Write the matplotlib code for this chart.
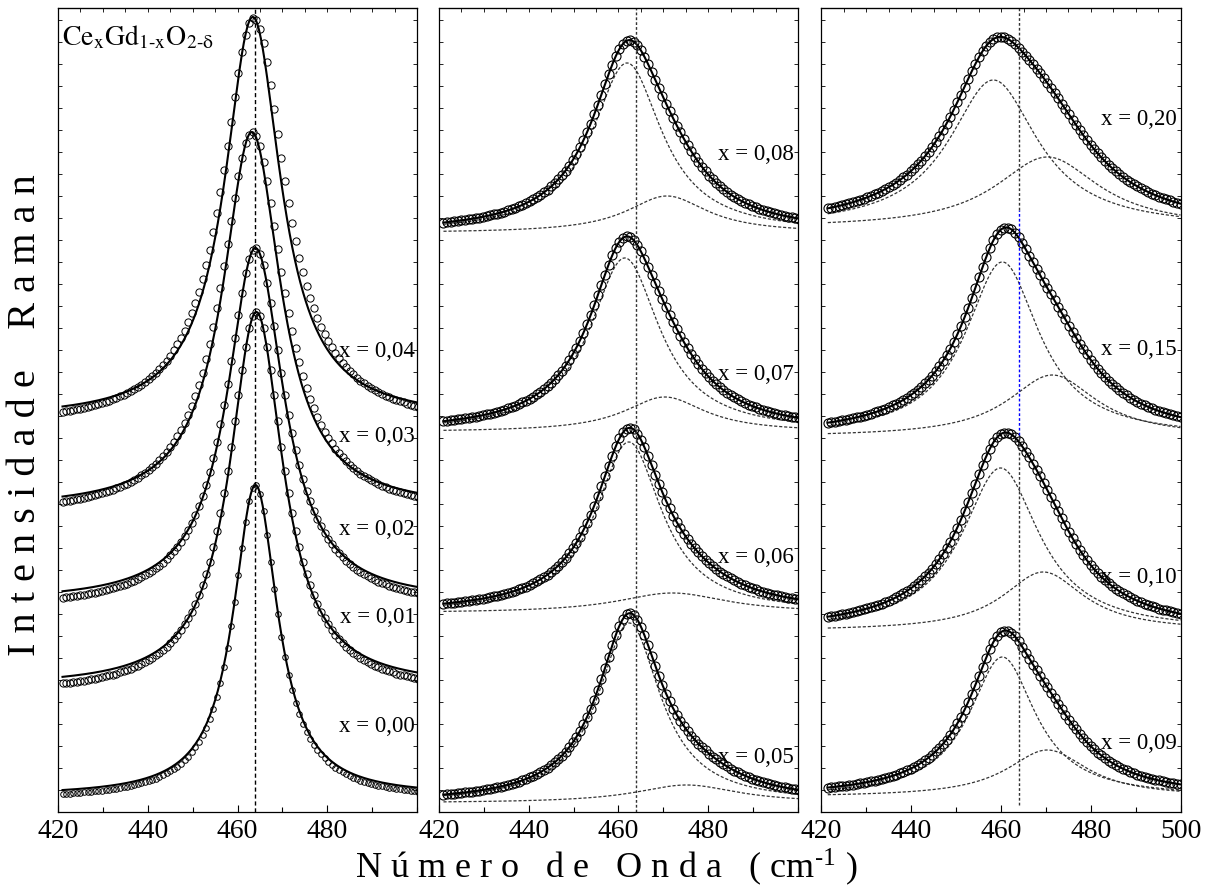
import numpy as np
import matplotlib.pyplot as plt
from matplotlib.ticker import MultipleLocator

plt.rcParams['font.family'] = ['Liberation Serif', 'DejaVu Serif']
plt.rcParams['mathtext.fontset'] = 'stix'

# Raman band of CeO2 (F2g), intensities in arbitrary units (offset curves)
# panel 1: one Lorentzian per sample -> center, hwhm, amplitude, baseline
p1_labels = ['x = 0,04', 'x = 0,03', 'x = 0,02', 'x = 0,01', 'x = 0,00']
p1_fit_c = [463.4, 463.2, 464.0, 464.2, 464.0]
p1_fit_w = [7.6, 7.8, 7.6, 7.2, 6.0]
p1_fit_a = [402, 377, 354, 375, 311]
p1_fit_b = [393, 303, 210, 125, 16]
# measured points of panel 1 (a bit broader than the fit)
p1_dat_c = [463.6, 463.3, 464.0, 464.2, 464.0]
p1_dat_w = [8.6, 8.6, 8.0, 7.6, 6.0]
p1_dat_a = [410, 385, 362, 383, 315]
p1_dat_b = [384, 295, 202, 117, 12]

# panel 2: two Lorentzians (main band + defect band)
p2_labels = ['x = 0,08', 'x = 0,07', 'x = 0,06', 'x = 0,05']
p2_c1 = [461.9, 461.4, 462.3, 462.4]
p2_w1 = [9.5, 9.5, 9.0, 8.5]
p2_a1 = [170, 174, 171, 180]
p2_c2 = [470.8, 470.3, 472.0, 475.2]
p2_w2 = [11, 11, 15, 14]
p2_a2 = [37, 35, 20, 18]
p2_b = [579, 380, 199, 9]

# panel 3
p3_labels = ['x = 0,20', 'x = 0,15', 'x = 0,10', 'x = 0,09']
p3_c1 = [458.3, 460.3, 459.9, 460.3]
p3_w1 = [12.0, 10.0, 10.5, 9.0]
p3_a1 = [148, 175, 163, 140]
p3_c2 = [470.3, 471.4, 469.4, 470.3]
p3_w2 = [14, 12, 11, 11]
p3_a2 = [71, 62, 59, 47]
p3_b = [584, 375, 181, 15]

ref_line = 464.0


def lorentz(x, c, w, a):
    return a / (1 + ((x - c) / w) ** 2)


def style_axis(ax, show500):
    ax.set_xlim(420, 500)
    ax.set_ylim(0, 804)
    ax.xaxis.set_major_locator(MultipleLocator(20))
    ax.xaxis.set_minor_locator(MultipleLocator(10))
    ax.yaxis.set_major_locator(MultipleLocator(22))
    ax.tick_params(axis='x', which='major', direction='in', length=5, width=0.8,
                   labelsize=20, pad=5, top=False)
    ax.tick_params(axis='x', which='minor', direction='in', length=3.5, width=0.8, top=False)
    ax.tick_params(axis='y', which='both', direction='in', length=3, width=0.6,
                   left=True, right=True, labelleft=False)
    if show500:
        ax.set_xticks([420, 440, 460, 480, 500])
    else:
        ax.set_xticks([420, 440, 460, 480])
    top = ax.secondary_xaxis('top')
    top.set_xticks(np.arange(420, 501, 5))
    top.tick_params(direction='in', length=3, width=0.6, labeltop=False)
    for s in ax.spines.values():
        s.set_linewidth(0.9)


fig = plt.figure(figsize=(12.14, 8.88), dpi=100)
ax1 = fig.add_axes([0.0478, 0.0856, 0.2957, 0.9054])
ax2 = fig.add_axes([0.3616, 0.0856, 0.2957, 0.9054])
ax3 = fig.add_axes([0.6763, 0.0856, 0.2965, 0.9054])

# Panel 1
xd = np.arange(421.0, 500.5, 0.8)
xf = np.arange(421.0, 500.01, 0.2)
for i in range(len(p1_labels)):
    yd = p1_dat_b[i] + lorentz(xd, p1_dat_c[i], p1_dat_w[i], p1_dat_a[i])
    yf = p1_fit_b[i] + lorentz(xf, p1_fit_c[i], p1_fit_w[i], p1_fit_a[i])
    ms = 4 if i == 4 else 5.2
    ax1.plot(xd, yd, 'o', mfc='none', mec='k', mew=0.7, ms=ms)
    ax1.plot(xf, yf, '-', c='k', lw=1.5)
ax1.axvline(ref_line, c='k', lw=1, ls=(0, (3, 2)))
p1_text_y = [460, 375, 282, 194, 85]
for lab, ty in zip(p1_labels, p1_text_y):
    ax1.text(499.6, ty, lab, ha='right', va='center', fontsize=16.5)
ax1.text(0.012, 0.954, r'$\mathrm{Ce_{x}Gd_{1\text{-}x}O_{2\text{-}\delta}}$',
         transform=ax1.transAxes, fontsize=20, va='baseline', ha='left')
style_axis(ax1, False)


def two_band_panel(ax, labels, c1, w1, a1, c2, w2, a2, b, text_y, x0):
    xd = np.arange(x0, 500.5, 0.8)
    xf = np.arange(x0, 500.01, 0.2)
    for i in range(len(labels)):
        m_d = lorentz(xd, c1[i], w1[i], a1[i])
        s_d = lorentz(xd, c2[i], w2[i], a2[i])
        m_f = lorentz(xf, c1[i], w1[i], a1[i])
        s_f = lorentz(xf, c2[i], w2[i], a2[i])
        ax.plot(xf, b[i] + m_f, c='0.2', lw=0.9, ls=(0, (2.5, 1.5)))
        ax.plot(xf, b[i] + s_f, c='0.2', lw=0.9, ls=(0, (2.5, 1.5)))
        ax.plot(xd, b[i] + m_d + s_d, 'o', mfc='none', mec='k', mew=0.8, ms=6.5)
        ax.plot(xf, b[i] + m_f + s_f, '-', c='k', lw=1.5)
        ax.text(499.0, text_y[i], labels[i], ha='right', va='center', fontsize=16.5)


two_band_panel(ax2, p2_labels, p2_c1, p2_w1, p2_a1, p2_c2, p2_w2, p2_a2, p2_b,
               [657, 437, 254, 54], 421.0)
ax2.axvline(ref_line, c='0.2', lw=1, ls=(0, (2, 1.5)))
style_axis(ax2, False)

two_band_panel(ax3, p3_labels, p3_c1, p3_w1, p3_a1, p3_c2, p3_w2, p3_a2, p3_b,
               [692, 462, 234, 68], 421.5)
ax3.axvline(ref_line, ymin=0.009, ymax=0.469, c='0.2', lw=1, ls=(0, (2, 1.5)))
ax3.axvline(ref_line, ymin=0.469, ymax=0.749, c='#0000ff', lw=1, ls=(0, (2, 1.5)))
ax3.axvline(ref_line, ymin=0.749, ymax=1.0, c='0.2', lw=1, ls=(0, (2, 1.5)))
style_axis(ax3, True)

fig.text(0.021, 0.533, 'I n t e n s i d a d e    R a m a n', rotation=90,
         ha='center', va='center', fontsize=29)
fig.text(0.5, 0.011, r'N ú m e r o   d e   O n d a   ( cm$^{\mathregular{\text{-}1}}$ )',
         ha='center', va='baseline', fontsize=26)

fig.savefig('out.png', dpi=100)
